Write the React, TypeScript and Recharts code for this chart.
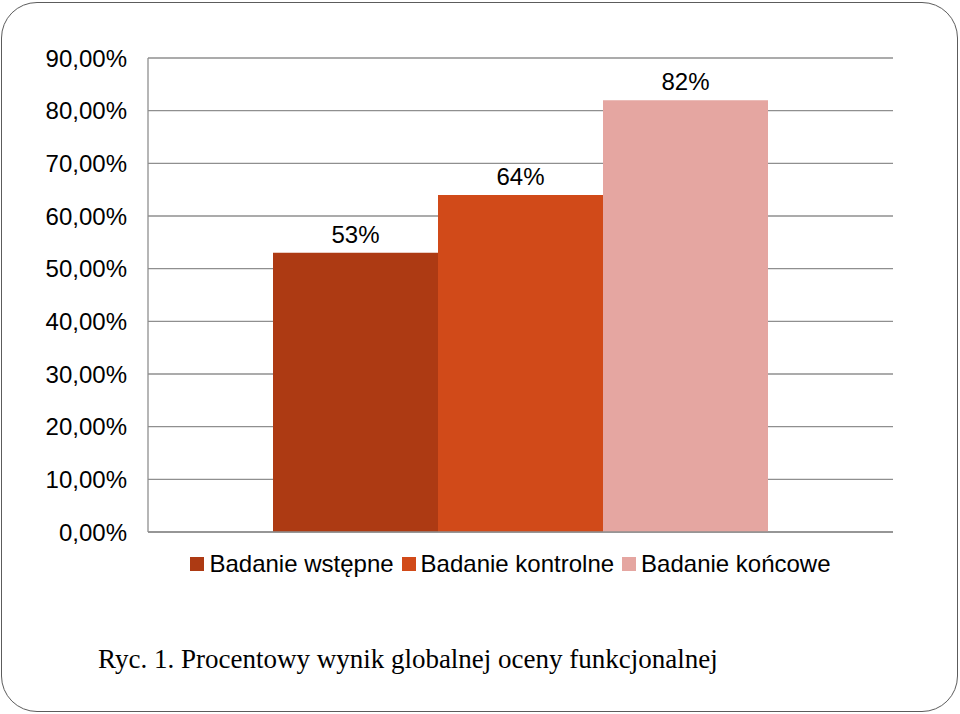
import React from "react";
import { BarChart, Bar, XAxis, YAxis, CartesianGrid, Legend, LabelList } from "recharts";

const categories = [""];
const seriesNames = ["Badanie wstępne", "Badanie kontrolne", "Badanie końcowe"];
const seriesKeys = ["wstepne", "kontrolne", "koncowe"];
const seriesValues = [0.53, 0.64, 0.82];
const seriesColors = ["#AD3A13", "#D14A19", "#E5A6A1"];
const yTicks = [0, 0.1, 0.2, 0.3, 0.4, 0.5, 0.6, 0.7, 0.8, 0.9];
const caption = "Ryc. 1. Procentowy wynik globalnej oceny funkcjonalnej";

const data = categories.map((c) => {
  const row: any = { name: c };
  seriesKeys.forEach((k, i) => (row[k] = seriesValues[i]));
  return row;
});

const SANS = "'Liberation Sans', Arial, sans-serif";

const fmtTick = (v: number) => (v * 100).toFixed(2).replace(".", ",") + "%";
const fmtLabel = (v: any) => Math.round(Number(v) * 100) + "%";

const LegendContent = () => (
  <div style={{ display: "flex", justifyContent: "center", alignItems: "center", fontFamily: SANS, fontSize: 24, color: "#000", lineHeight: "28px", whiteSpace: "nowrap" }}>
    {seriesNames.map((n, i) => (
      <span key={n} style={{ display: "inline-flex", alignItems: "center", marginRight: i < 2 ? 8 : 0 }}>
        <span style={{ display: "inline-block", width: 14, height: 14, background: seriesColors[i], marginRight: 5 }} />
        {n}
      </span>
    ))}
  </div>
);

export default function App() {
  return (
    <div style={{ position: "absolute", left: 0, top: 0, width: 960, height: 714, background: "#fff" }}>
      <div style={{ position: "absolute", left: 1, top: 2, width: 955, height: 708, border: "1.5px solid #5c5c5c", borderRadius: 36 }} />
      <div style={{ position: "absolute", left: 0, top: 0 }}>
        <BarChart
          width={960}
          height={600}
          data={data}
          margin={{ top: 58, right: 67, left: 0, bottom: 39 }}
          barCategoryGap={125}
          barGap={0}
        >
          <CartesianGrid vertical={false} stroke="#8f8f8f" strokeWidth={1.3} />
          <XAxis dataKey="name" tick={false} tickLine={false} axisLine={{ stroke: "#8f8f8f", strokeWidth: 1.3 }} height={1} />
          <YAxis
            width={148}
            domain={[0, 0.9]}
            ticks={yTicks}
            tickFormatter={fmtTick}
            tickLine={false}
            axisLine={{ stroke: "#8f8f8f", strokeWidth: 1.3 }}
            tick={{ fill: "#000", fontSize: 24, fontFamily: SANS }}
            tickMargin={15}
            interval={0}
          />
          <Legend
            verticalAlign="bottom"
            content={<LegendContent />}
            wrapperStyle={{ left: 128, width: 765, bottom: 22 }}
          />
          {seriesKeys.map((k, i) => (
            <Bar key={k} dataKey={k} name={seriesNames[i]} fill={seriesColors[i]} isAnimationActive={false}>
              <LabelList dataKey={k} position="top" offset={10} formatter={fmtLabel} fill="#000" fontSize={24} fontFamily={SANS} />
            </Bar>
          ))}
        </BarChart>
      </div>
      <div style={{ position: "absolute", left: 98, top: 643, fontFamily: "'Liberation Serif', 'Times New Roman', serif", fontSize: 27, color: "#000", whiteSpace: "nowrap", lineHeight: "32px" }}>
        {caption}
      </div>
    </div>
  );
}
